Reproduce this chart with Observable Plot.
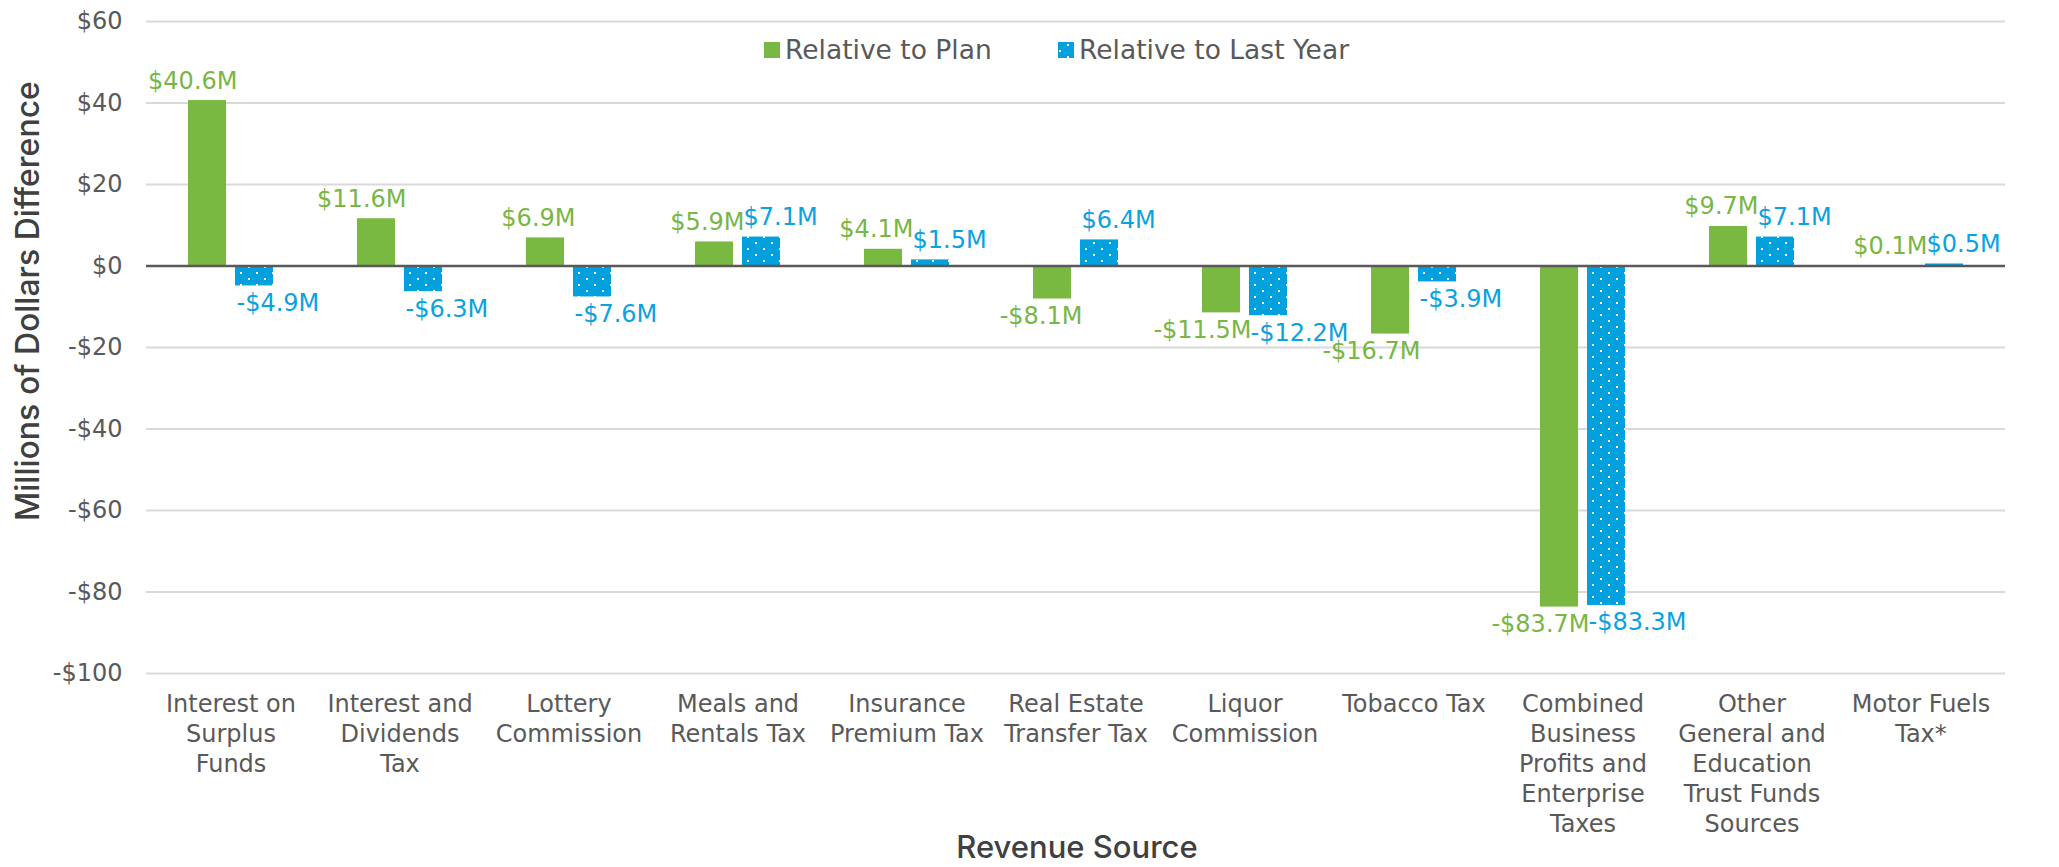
<!DOCTYPE html>
<html>
<head>
<meta charset="utf-8">
<script src="https://cdn.jsdelivr.net/npm/d3@7"></script>
<script src="https://cdn.jsdelivr.net/npm/@observablehq/plot@0.6"></script>
<style>
  html, body { margin: 0; padding: 0; background: #ffffff; }
  #chart { position: relative; width: 2059px; height: 867px; }
</style>
</head>
<body>
<div id="chart"></div>
<script>
// ---- data ----
const categories = [
  "Interest on Surplus Funds",
  "Interest and Dividends Tax",
  "Lottery Commission",
  "Meals and Rentals Tax",
  "Insurance Premium Tax",
  "Real Estate Transfer Tax",
  "Liquor Commission",
  "Tobacco Tax",
  "Combined Business Profits and Enterprise Taxes",
  "Other General and Education Trust Funds Sources",
  "Motor Fuels Tax*"
];
const categoryLabels = [
  "Interest on\nSurplus\nFunds",
  "Interest and\nDividends\nTax",
  "Lottery\nCommission",
  "Meals and\nRentals Tax",
  "Insurance\nPremium Tax",
  "Real Estate\nTransfer Tax",
  "Liquor\nCommission",
  "Tobacco Tax",
  "Combined\nBusiness\nProfits and\nEnterprise\nTaxes",
  "Other\nGeneral and\nEducation\nTrust Funds\nSources",
  "Motor Fuels\nTax*"
];
const seriesNames = ["Relative to Plan", "Relative to Last Year"];
const planValues = [40.6, 11.6, 6.9, 5.9, 4.1, -8.1, -11.5, -16.7, -83.7, 9.7, 0.1];
const lastYearValues = [-4.9, -6.3, -7.6, 7.1, 1.5, 6.4, -12.2, -3.9, -83.3, 7.1, 0.5];
const yTicks = [60, 40, 20, 0, -20, -40, -60, -80, -100];
const yDomain = [-100, 60];

// ---- styles ----
const GREEN = "#7ab941";
const BLUE = "#00a1de";
const GREEN_TEXT = "#78b646";
const BLUE_TEXT = "#0aa2df";
const FONT = "'DejaVu Sans', sans-serif";

const labelOf = new Map(categories.map((c, i) => [c, categoryLabels[i]]));
const rows = categories.flatMap((c, i) => [
  {cat: c, series: seriesNames[0], value: planValues[i]},
  {cat: c, series: seriesNames[1], value: lastYearValues[i]}
]);
const plan = rows.filter(d => d.series === seriesNames[0]);
const last = rows.filter(d => d.series === seriesNames[1]);
const money = v => (v < 0 ? "-" : "") + "$" + Math.abs(v).toFixed(1) + "M";
const tick = v => (v < 0 ? "-" : "") + "$" + Math.abs(v);

function labels(data, color, anchor, dx) {
  return [
    Plot.text(data.filter(d => d.value >= 0), {
      fx: "cat", x: "series", y: "value", text: d => money(d.value),
      textAnchor: anchor, dx, lineAnchor: "bottom", dy: -12,
      fill: color, fontSize: 24, fontFamily: FONT
    }),
    Plot.text(data.filter(d => d.value < 0), {
      fx: "cat", x: "series", y: "value", text: d => money(d.value),
      textAnchor: anchor, dx, lineAnchor: "top", dy: 8,
      fill: color, fontSize: 24, fontFamily: FONT
    })
  ];
}

const svg = Plot.plot({
  width: 2059,
  height: 867,
  marginLeft: 141,
  marginRight: 50,
  marginTop: 21,
  marginBottom: 194,
  style: {fontFamily: FONT, background: "#ffffff", color: "#595959"},
  fx: {domain: categories, padding: 0, label: null},
  x: {domain: seriesNames, paddingInner: 0.19, paddingOuter: 0.86, axis: null},
  y: {domain: yDomain, label: null},
  marks: [
    Plot.gridY(yTicks, {stroke: "#d9d9d9", strokeOpacity: 1, strokeWidth: 2}),
    Plot.axisY(yTicks, {
      tickSize: 0, tickPadding: 24, tickFormat: tick, fontSize: 24,
      fill: "#595959", label: null, fontFamily: FONT
    }),
    Plot.axisFx({
      anchor: "bottom", tickSize: 0, tickPadding: 17, fontSize: 24, lineHeight: 1.25,
      tickFormat: c => labelOf.get(c), fill: "#595959", label: null, fontFamily: FONT
    }),
    Plot.barY(plan, {fx: "cat", x: "series", y: "value", fill: GREEN}),
    Plot.barY(last, {fx: "cat", x: "series", y: "value", fill: "url(#dots)"}),
    Plot.ruleY([0], {stroke: "#595959", strokeWidth: 2.5}),
    ...labels(plan, GREEN_TEXT, "end", 30),
    ...labels(last, BLUE_TEXT, "start", -18)
  ]
});

// dotted pattern for "Relative to Last Year"
const s = d3.select(svg);
const pat = s.insert("defs", ":first-child").append("pattern")
  .attr("id", "dots").attr("patternUnits", "userSpaceOnUse")
  .attr("width", 16).attr("height", 12);
pat.append("rect").attr("width", 16).attr("height", 12).attr("fill", BLUE);
pat.append("rect").attr("x", 3).attr("y", 2).attr("width", 2).attr("height", 2).attr("fill", "#ffffff");
pat.append("rect").attr("x", 11).attr("y", 8).attr("width", 2).attr("height", 2).attr("fill", "#ffffff");

// legend
const leg = s.append("g")
  .attr("font-family", FONT).attr("font-size", 26.5).attr("fill", "#595959")
  .attr("text-anchor", "start");
const legendItems = [
  {name: seriesNames[0], fill: GREEN, x: 764},
  {name: seriesNames[1], fill: "url(#dots)", x: 1058}
];
for (const it of legendItems) {
  leg.append("rect").attr("x", it.x).attr("y", 42).attr("width", 16).attr("height", 16).attr("fill", it.fill);
  leg.append("text").attr("x", it.x + 21).attr("y", 50).attr("dy", "0.35em")
    .attr("text-anchor", "start").text(it.name);
}

// axis titles
s.append("text")
  .attr("transform", "translate(28,301) rotate(-90)")
  .attr("text-anchor", "middle").attr("dy", "0.35em")
  .attr("font-family", "Inter, sans-serif").attr("font-weight", 500)
  .attr("font-size", 32).attr("fill", "#404040")
  .text("Millions of Dollars Difference");
s.append("text")
  .attr("x", 1077).attr("y", 847)
  .attr("text-anchor", "middle").attr("dy", "0.35em")
  .attr("font-family", "Inter, sans-serif").attr("font-weight", 500)
  .attr("font-size", 31).attr("fill", "#404040")
  .text("Revenue Source");

document.getElementById("chart").appendChild(svg);
</script>
</body>
</html>
